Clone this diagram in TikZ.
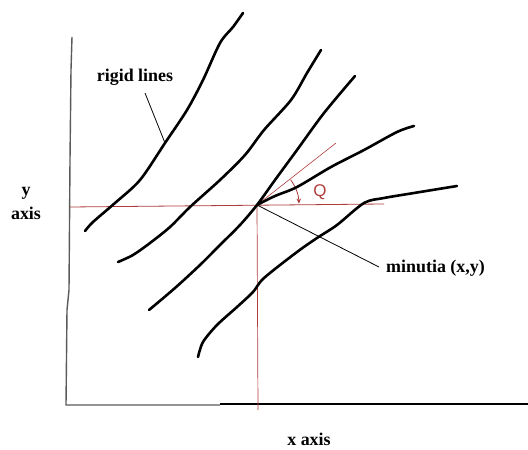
\documentclass[tikz,border=0pt]{standalone}
\usepackage{fontspec}
\setmainfont{Liberation Serif}
\newfontfamily\qfont{Liberation Sans}
\usetikzlibrary{arrows.meta,calc}
\definecolor{redline}{RGB}{175,60,60}
\definecolor{axisgray}{RGB}{90,90,90}
\begin{document}
\begin{tikzpicture}[x=1bp,y=-1bp,
  ridge/.style={line width=2.6bp,line cap=round,line join=round},
  axisline/.style={line width=1.4bp,axisgray},
  redthin/.style={line width=0.8bp,redline},
  leader/.style={line width=0.8bp,black},
  lbl/.style={font=\fontsize{18}{20}\selectfont\bfseries,inner sep=0pt}]
\useasboundingbox (0,0) rectangle (528,450);
% axes
\draw[axisline] (72,37) -- (71,70) -- (70,160) -- (69,290) -- (67,310) -- (66,405) -- (220,405);
\draw[line width=1.4bp,black] (220,404) -- (528,404);
% red guide lines
\coordinate (m) at (257,205);
\draw[redthin] (70,207) -- (384,204);
\draw[redthin,line width=0.7bp] (m) -- (258,410);
\draw[redthin,line width=0.6bp] (m) -- (336,143);
\draw[redthin,-{Stealth[length=5bp,width=4.5bp]}] ($(m)+(-37:42)$) arc[start angle=-37,end angle=-2,radius=42];
\node[text=redline,font=\qfont\fontsize{17}{18}\selectfont,inner sep=0pt] (q) at (320,192) {Q};
% ridges
\draw[ridge] plot[smooth,tension=0.5] coordinates {(85,231) (93,222) (115,203) (140,180) (165,143) (187,110) (203,80) (220,43) (233,27) (243,13)};
\draw[ridge] plot[smooth,tension=0.5] coordinates {(118,262) (133,255) (150,243) (170,227) (190,207) (220,180) (245,155) (264,130) (291,100) (307,73) (321,50)};
\draw[ridge] plot[smooth,tension=0.5] coordinates {(149,310) (175,288) (200,265) (220,245) (240,225) (257,205) (275,180) (297,150) (324,113) (355,76)};
\draw[ridge] plot[smooth,tension=0.5] coordinates {(257,205) (275,196) (297,187) (331,167) (364,150) (397,132) (414,126)};
\draw[ridge] plot[smooth,tension=0.5] coordinates {(198,357) (203,342) (217,325) (237,307) (253,292) (264,278) (297,252) (317,238) (337,225) (364,203) (384,198) (414,193) (457,186)};
% labels
\node[lbl] (rl) at (135,77) {rigid lines};
\coordinate (r1) at (165,143);
\draw[leader] (145,93) -- (r1);
\node[lbl,anchor=west] (mn) at (386,268) {minutia (x,y)};
\draw[leader] (m) -- (379,267);
\node[lbl] (ya) at (26,193) {y};
\node[lbl] (ya2) at (26,213) {axis};
\node[lbl] (xa) at (309,439) {x axis};
\end{tikzpicture}
\end{document}
